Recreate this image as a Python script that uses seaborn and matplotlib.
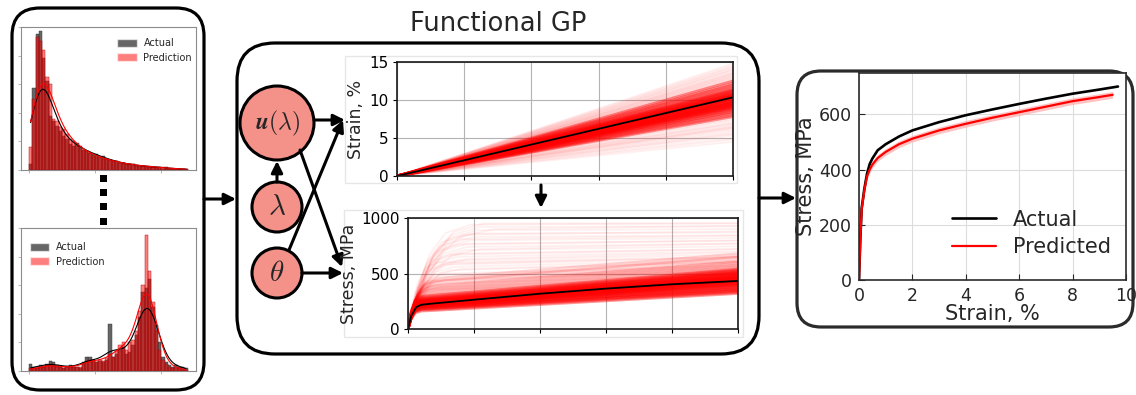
import numpy as np
import pandas as pd
import matplotlib
matplotlib.use("Agg")
import matplotlib.pyplot as plt
import seaborn as sns
from matplotlib.patches import FancyBboxPatch, Circle, Rectangle, Patch

sns.set_style("white")
plt.rcParams["font.family"] = ["DejaVu Sans"]
plt.rcParams["mathtext.fontset"] = "cm"

# ---------------------------------------------------------------- data
# parameter histograms (counts per bin, 48 bins)
n_bins = 48
top_actual = [4, 57, 95, 97, 78, 62, 38, 34, 31, 27, 24, 22, 18, 17, 19, 17,
              14, 13, 12, 11, 11, 9, 10, 8, 7, 6, 6, 5, 5, 4, 4, 4,
              3, 3, 3, 2, 3, 2, 2, 2, 1, 2, 1, 1, 1, 1, 1, 0.5]
top_pred = [16, 50, 93, 90, 84, 65, 60, 36, 34, 30, 29, 25, 22, 20, 17, 15,
            14, 13, 12, 10, 9, 9, 8, 8, 7, 6, 6, 5, 5, 4, 4, 4,
            3, 3, 3, 3, 2, 2, 2, 2, 2, 1, 1, 1, 1, 1, 1, 1]
bottom_actual = [5, 3, 2, 4, 3, 5, 7, 6, 4, 3, 2, 3, 4, 3, 3, 2,
                 6, 10, 10, 8, 6, 7, 6, 8, 33, 10, 12, 15, 17, 12, 13, 18,
                 25, 38, 55, 58, 64, 45, 32, 20, 10, 6, 4, 3, 4, 3, 3, 2]
bottom_pred = [2, 2, 2, 3, 3, 4, 5, 4, 3, 3, 2, 3, 3, 3, 3, 3,
               5, 7, 8, 8, 6, 8, 7, 9, 12, 10, 14, 18, 20, 15, 20, 22,
               28, 42, 60, 95, 70, 48, 28, 15, 8, 5, 3, 2, 2, 2, 1, 1]

# functional GP samples: strain path end values (strain at final step, %)
strain_core_ends = [7.8, 8.0, 8.2, 8.4, 8.5, 8.7, 8.9, 9.0, 9.1, 9.2,
                    9.3, 9.4, 9.5, 9.6, 9.7, 9.8, 9.9, 10.0, 10.1, 10.2, 10.3,
                    10.4, 10.5, 10.6, 10.7, 10.8, 10.9, 11.0, 11.1, 11.2, 11.4,
                    11.6, 11.8, 12.0, 12.2, 12.5, 9.35, 9.85, 10.25, 10.75,
                    9.65, 10.45, 9.15, 9.55, 10.15, 10.55, 8.8, 11.3]
strain_tail_ends = [4.5, 4.8, 5.0, 5.3, 5.5, 5.8, 6.0, 6.2, 6.4, 6.5, 6.6,
                    6.8, 7.0, 7.2, 7.5, 12.6, 12.8, 12.9, 13.0, 13.2,
                    13.3, 13.5, 13.7, 13.9, 14.0, 14.1, 14.3, 14.6, 14.8, 7.4,
                    6.9, 13.1, 12.7, 13.6, 5.6, 14.4, 6.3, 12.5, 7.7, 13.4]
strain_mean_end = 10.35

# stress paths: yield level, knee strain and final stress per sample (MPa, %)
core_yield = [165, 175, 185, 190, 195, 200, 205, 210, 212, 215, 218, 220, 222,
              225, 228, 230, 232, 235, 238, 240, 243, 245, 248, 250, 255, 260,
              265, 270, 275, 280, 290, 300, 210, 225, 235, 245, 255, 200, 230,
              250, 265, 185, 215, 240]
core_final = [320, 330, 340, 350, 360, 370, 378, 385, 392, 400, 406, 412, 418,
              424, 430, 436, 442, 448, 454, 460, 466, 472, 478, 484, 490, 496,
              502, 508, 515, 522, 530, 540, 395, 428, 445, 462, 480, 365, 433,
              470, 505, 345, 410, 452]
core_knee = 0.4
mid_yield = [280, 300, 320, 340, 360, 380, 400, 420, 440, 460, 310, 350, 390,
             430, 330, 370]
mid_final = [520, 540, 560, 575, 590, 605, 620, 640, 660, 680, 550, 580, 610,
             650, 565, 595]
mid_knee = [0.45, 0.5, 0.55, 0.6, 0.65, 0.7, 0.75, 0.8, 0.85, 0.9, 0.5, 0.6,
            0.7, 0.8, 0.55, 0.65]
tail_yield = [320, 350, 380, 410, 440, 470, 500, 530, 560, 590, 620, 650, 680,
              710, 740, 770, 800, 830, 860, 890, 920, 950, 360, 450, 540, 630,
              720, 810, 900, 600, 490, 580, 670, 760, 850, 940]
tail_knee = [0.8, 0.9, 1.0, 1.0, 1.1, 1.2, 1.2, 1.3, 1.4, 1.4, 1.5, 1.5, 1.6,
             1.7, 1.8, 1.8, 1.9, 2.0, 2.0, 2.1, 2.2, 2.3, 0.7, 1.2, 1.6, 1.8,
             2.2, 1.6, 2.6, 0.9, 1.0, 1.1, 1.3, 1.5, 1.7, 1.9]
tail_final = [420, 440, 470, 490, 520, 545, 575, 600, 625, 650, 670, 700, 720,
              745, 770, 795, 820, 845, 870, 900, 925, 950, 450, 530, 610, 690,
              770, 840, 930, 650, 560, 640, 720, 800, 880, 955]
# normalised rise profiles of the elastic-plastic transition
core_shape_x = [0.0, 0.25, 0.55, 1.0, 1.6]
core_shape_y = [0.0, 0.55, 0.88, 0.98, 1.0]
tail_shape_x = [0.0, 0.15, 0.35, 0.6, 1.0]
tail_shape_y = [0.0, 0.4, 0.72, 0.92, 1.0]
stress_mean_x = [0, 0.1, 0.25, 0.4, 0.7, 2, 4, 6, 8, 10]
stress_mean_y = [0, 120, 197, 218, 228, 264, 318, 364, 403, 433]

# final prediction vs measurement
actual_strain = [0, 0.05, 0.1, 0.2, 0.3, 0.4, 0.5, 0.7, 1.0, 1.5, 2, 3, 4, 5,
                 6, 7, 8, 9, 9.7]
actual_stress = [0, 150, 260, 330, 385, 420, 440, 470, 492, 520, 542, 572, 597,
                 618, 638, 657, 675, 690, 701]
pred_strain = [0, 0.05, 0.1, 0.2, 0.3, 0.4, 0.5, 0.7, 1.0, 1.5, 2, 3, 4, 5,
               6, 7, 8, 9, 9.5]
pred_stress = [0, 150, 255, 325, 375, 400, 418, 442, 464, 492, 512, 542, 566,
               588, 608, 628, 648, 663, 671]
pred_band = 12

# ---------------------------------------------------------------- figure
W, H = 1136, 395
fig = plt.figure(figsize=(W / 100, H / 100), dpi=100)


def frac(l, t, r, b):
    return [l / W, 1 - b / H, (r - l) / W, (b - t) / H]


# overlay in pixel units for frames, nodes and arrows
ov = fig.add_axes([0, 0, 1, 1])
ov.set_xlim(0, W)
ov.set_ylim(H, 0)
ov.axis("off")


def rbox(l, t, r, b, rad, color="black", lw=2.3):
    ov.add_patch(FancyBboxPatch((l, t), r - l, b - t,
                                boxstyle=f"round,pad=0,rounding_size={rad}",
                                fc="none", ec=color, lw=lw))


def arrow(x0, y0, x1, y1):
    ov.annotate("", xy=(x1, y1), xytext=(x0, y0),
                arrowprops=dict(arrowstyle="-|>", color="black", lw=2.2,
                                mutation_scale=17, shrinkA=0, shrinkB=0))


rbox(12, 8, 204, 390, 28)
rbox(237, 43, 759, 354, 38)
rbox(797, 71, 1133, 327, 24, color="#2b2b2b")

# light frames of the sample panels
ov.add_patch(Rectangle((345, 56), 392, 127, fc="none", ec="#e6e6e6", lw=1))
ov.add_patch(Rectangle((344, 210), 399, 127, fc="none", ec="#e6e6e6", lw=1))

# continuation dots
for yc in [178, 192, 206, 221]:
    ov.add_patch(Rectangle((99.5, yc - 3.5), 7, 7, fc="black", ec="none"))

# graph nodes
node_fc = "#f4928a"
for (cx, cy, r, txt, fs) in [(277, 123, 37, r"$\mathbfit{u}(\lambda)$", 17),
                             (277, 207, 25, r"$\lambda$", 21),
                             (277, 273, 25, r"$\theta$", 21)]:
    ov.add_patch(Circle((cx, cy), r, fc=node_fc, ec="black", lw=2.2))
    ov.text(cx, cy, txt, ha="center", va="center", fontsize=fs)

arrow(204, 199, 236, 199)
arrow(759, 198, 796, 198)
arrow(314, 120, 345, 120)
arrow(277, 182, 277, 161)
arrow(289, 250, 343, 120)
arrow(300, 150, 342, 267)
arrow(302, 273, 343, 273)
arrow(541, 185, 541, 208)

fig.text(498 / W, 1 - 24 / H, "Functional GP", fontsize=18.5, ha="center",
         va="center")

# ---------------------------------------------------------------- histograms
edges = [float(e) for e in range(n_bins + 1)]
centers = [e + 0.5 for e in range(n_bins)]


def hist_panel(rect, actual, pred, loc, anchor, bw):
    ax = fig.add_axes(rect)
    for counts, col, ec, a in [(actual, "black", "#333333", 0.6),
                               (pred, "red", "#aa0000", 0.5)]:
        df = pd.DataFrame({"value": centers, "count": counts})
        sns.histplot(data=df, x="value", weights="count", bins=edges,
                     color=col, alpha=a, kde=True, ax=ax, edgecolor=ec,
                     linewidth=0.3, kde_kws=dict(bw_adjust=bw),
                     line_kws=dict(lw=0.8))
    ax.set_xlim(-2.4, 50.5)
    ax.set_ylim(0, 100)
    ax.set_xlabel("")
    ax.set_ylabel("")
    ax.tick_params(labelleft=False, labelbottom=False, length=2, width=0.5,
                   color="#999999", left=True, bottom=True)
    for s in ax.spines.values():
        s.set_color("#8c8c8c")
        s.set_linewidth(0.8)
    handles = [Patch(fc="black", alpha=0.6, label="Actual"),
               Patch(fc="red", alpha=0.5, label="Prediction")]
    ax.legend(handles=handles, loc=loc, bbox_to_anchor=anchor, frameon=False,
              fontsize=7, handlelength=2.0, handleheight=0.9,
              handletextpad=0.7, labelspacing=0.45, borderpad=0,
              borderaxespad=0)
    return ax


hist_panel(frac(21, 27, 196, 170), top_actual, top_pred, "upper left",
           (0.55, 0.92), 0.55)
hist_panel(frac(21, 228, 196, 371), bottom_actual, bottom_pred, "upper left",
           (0.05, 0.90), 0.45)

# ---------------------------------------------------------------- strain samples
ax_u = fig.add_axes(frac(397, 62, 733, 176))
for ends, a, lw in [(strain_tail_ends, 0.06, 1.3),
                    (strain_core_ends, 0.42, 2.0)]:
    df = pd.DataFrame({
        "sample": np.repeat(np.arange(len(ends)), 2),
        "step": np.tile([0, 10], len(ends)),
        "strain": np.ravel([[0, e] for e in ends]),
    })
    sns.lineplot(data=df, x="step", y="strain", units="sample",
                 estimator=None, color="red", alpha=a, lw=lw, ax=ax_u,
                 legend=False)
ax_u.plot([0, 10], [0, strain_mean_end], color="black", lw=1.3)
ax_u.set_xlim(0, 10)
ax_u.set_ylim(0, 15)
ax_u.set_yticks([0, 5, 10, 15])
ax_u.set_xticks([0, 2, 4, 6, 8, 10])
ax_u.set_xlabel("")
ax_u.set_ylabel("Strain, %", fontsize=12.5)
ax_u.yaxis.set_label_coords(-0.095, 0.5)

# ---------------------------------------------------------------- stress samples
ax_s = fig.add_axes(frac(408, 218, 738, 329))


def stress_frame(knees, ylds, finals, sx, sy):
    rows = []
    for i, (k, yv, fv) in enumerate(zip(knees, ylds, finals)):
        for xf, yf in zip(sx, sy):
            rows.append((i, k * xf, yv * yf))
        rows.append((i, 10.0, fv))
    return pd.DataFrame(rows, columns=["sample", "strain", "stress"])


tail_df = stress_frame(tail_knee, tail_yield, tail_final, tail_shape_x,
                       tail_shape_y)
mid_df = stress_frame(mid_knee, mid_yield, mid_final, tail_shape_x,
                      tail_shape_y)
core_df = stress_frame([core_knee] * len(core_yield), core_yield, core_final,
                       core_shape_x, core_shape_y)
for df, a, lw in [(tail_df, 0.06, 1.3), (mid_df, 0.16, 1.5),
                  (core_df, 0.42, 2.0)]:
    sns.lineplot(data=df, x="strain", y="stress", units="sample",
                 estimator=None, color="red", alpha=a, lw=lw, ax=ax_s,
                 legend=False, sort=False)
ax_s.plot(stress_mean_x, stress_mean_y, color="black", lw=1.3)
ax_s.set_xlim(0, 10)
ax_s.set_ylim(0, 1000)
ax_s.set_yticks([0, 500, 1000])
ax_s.set_xticks([0, 2, 4, 6, 8, 10])
ax_s.set_xlabel("")
ax_s.set_ylabel("Stress, MPa", fontsize=12.5)
ax_s.yaxis.set_label_coords(-0.151, 0.5)

for ax in (ax_u, ax_s):
    ax.grid(True, color="#b3b3b3", lw=0.8)
    ax.tick_params(direction="out", length=3, width=0.8, labelsize=11, pad=3,
                   labelbottom=False, left=True, bottom=True, colors="black")
    for s in ax.spines.values():
        s.set_color("#1a1a1a")
        s.set_linewidth(1.2)

# ---------------------------------------------------------------- final curve
ax_r = fig.add_axes(frac(859, 73, 1126, 280))
ax_r.fill_between(pred_strain, np.array(pred_stress) - pred_band,
                  np.array(pred_stress) + pred_band, color="#ffb3b3", lw=0,
                  alpha=0.8)
sns.lineplot(x=actual_strain, y=actual_stress, color="black", lw=1.9,
             ax=ax_r, label="Actual")
sns.lineplot(x=pred_strain, y=pred_stress, color="red", lw=1.6, ax=ax_r,
             label="Predicted")
ax_r.set_xlim(0, 10)
ax_r.set_ylim(0, 750)
ax_r.set_xticks([0, 2, 4, 6, 8, 10])
ax_r.set_yticks([0, 200, 400, 600])
ax_r.grid(True, color="#dcdcdc", lw=0.8)
ax_r.tick_params(direction="in", length=4, width=0.8, labelsize=12.5, pad=5,
                 left=True, bottom=True)
for s in ax_r.spines.values():
    s.set_color("#2b2b2b")
    s.set_linewidth(1.2)
ax_r.set_xlabel("Strain, %", fontsize=15)
ax_r.set_ylabel("Stress, MPa", fontsize=15)
ax_r.xaxis.set_label_coords(0.5, -0.115)
ax_r.yaxis.set_label_coords(-0.16, 0.5)
ax_r.legend(loc="center left", bbox_to_anchor=(0.35, 0.225), frameon=False,
            fontsize=15, handlelength=2.1, handletextpad=0.8,
            labelspacing=0.35, borderpad=0, borderaxespad=0)

fig.savefig("out.png", dpi=100, facecolor="white")
